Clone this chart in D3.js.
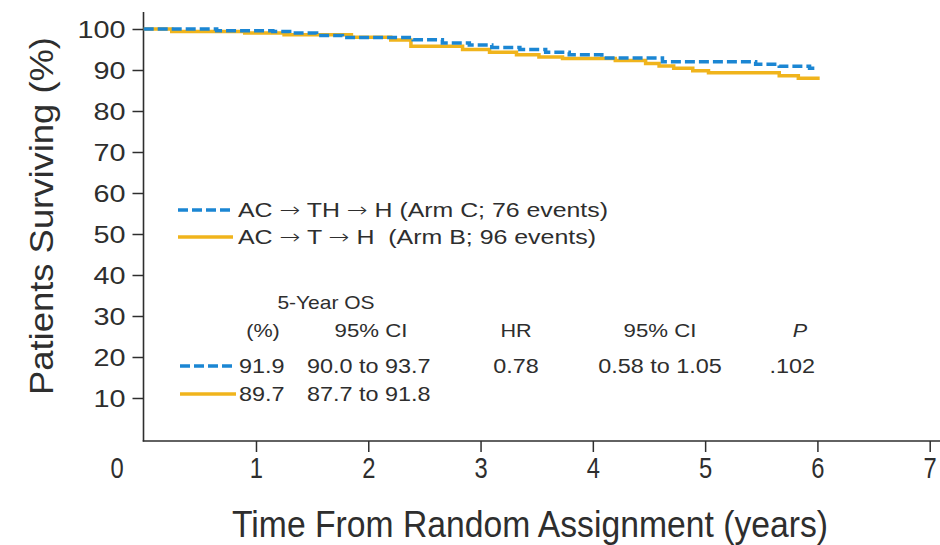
<!DOCTYPE html>
<html>
<head>
<meta charset="utf-8">
<script src="https://cdn.jsdelivr.net/npm/d3@7"></script>
<style>
  body { margin: 0; background: #fff; }
  svg { display: block; }
</style>
</head>
<body>
<svg id="chart" width="940" height="545"></svg>
<script>
// Axis ticks
const timeTicks = [1, 2, 3, 4, 5, 6, 7];
const survivalTicks = [10, 20, 30, 40, 50, 60, 70, 80, 90, 100];

// Kaplan-Meier estimates, Arm C (AC -> TH -> H)
const armCTime = [0, 0.65, 1.15, 1.3, 1.54, 1.77, 2.4, 2.66, 2.9, 3.1, 3.35, 3.58, 3.79, 4.08, 4.62, 5.45, 5.66, 5.93, 6.0];
const armCSurv = [100, 99.6, 99.4, 99.0, 98.4, 97.9, 97.4, 96.6, 96.1, 95.5, 95.0, 94.3, 93.7, 92.9, 92.0, 91.4, 90.9, 90.4, 90.4];

// Kaplan-Meier estimates, Arm B (AC -> T -> H)
const armBTime = [0, 0.25, 0.9, 1.25, 1.85, 2.2, 2.38, 2.84, 3.08, 3.32, 3.52, 3.73, 4.2, 4.47, 4.59, 4.72, 4.89, 5.03, 5.66, 5.83, 6.02];
const armBSurv = [100, 99.4, 99.0, 98.6, 98.0, 97.3, 95.8, 95.0, 94.3, 93.7, 93.2, 92.8, 92.3, 91.6, 91.0, 90.4, 89.8, 89.3, 88.6, 88.0, 88.0];

// Legend entries: regimen steps and the bracketed note
const legendRegimens = [["AC", "TH", "H"], ["AC", "T", "H"]];
const legendNotes = [" (Arm C; 76 events)", "  (Arm B; 96 events)"];

// Summary table
const osPercent = ["91.9", "89.7"];
const osInterval = ["90.0 to 93.7", "87.7 to 91.8"];
const hazardRatio = "0.78";
const hrInterval = "0.58 to 1.05";
const pValue = ".102";

const blue = "#1b86d3";
const gold = "#f0b41c";
const ink = "#2e2e2e";
const sans = "'Liberation Sans', Arial, Helvetica, sans-serif";
const WIDE = 1.2;     // horizontal stretch of the body type
const NARROW = 0.82;  // horizontal squeeze of the time-axis type

const svg = d3.select("#chart");

// Append text whose glyphs are scaled horizontally around x = 0
function label(parent, txt, xPos, yPos, opts = {}) {
  const f = opts.scaleX || WIDE;
  return parent.append("text")
    .attr("x", xPos / f).attr("y", yPos)
    .attr("transform", `scale(${f},1)`)
    .attr("text-anchor", opts.anchor || "start")
    .attr("font-family", sans).attr("font-size", opts.size || 20)
    .attr("font-style", opts.italic ? "italic" : null)
    .attr("fill", ink)
    .style("white-space", "pre")
    .text(txt);
}

const x = d3.scaleLinear().domain([0, 7]).range([143.7, 929.7]);
const y = d3.scaleLinear().domain([0, 100]).range([439, 29]);

// Axis lines
svg.append("line").attr("x1", 143.5).attr("x2", 143.5).attr("y1", 12).attr("y2", 441.5)
  .attr("stroke", ink).attr("stroke-width", 1.6);
svg.append("line").attr("x1", 142.7).attr("x2", 940).attr("y1", 441).attr("y2", 441)
  .attr("stroke", ink).attr("stroke-width", 1.6);

// Y axis
const yAxis = svg.append("g").attr("transform", "translate(143.5,0)")
  .call(d3.axisLeft(y).tickValues(survivalTicks).tickSize(11).tickPadding(4));
yAxis.select(".domain").remove();
yAxis.selectAll(".tick line").attr("stroke", ink).attr("stroke-width", 1.5);
yAxis.selectAll(".tick text")
  .attr("font-family", sans).attr("font-size", 24).attr("fill", ink)
  .attr("x", -18 / WIDE).attr("dy", "0.36em")
  .attr("transform", `scale(${WIDE},1)`);

// X axis
const xAxis = svg.append("g").attr("transform", "translate(0,441)")
  .call(d3.axisBottom(x).tickValues(timeTicks).tickSize(11).tickFormat(d3.format("d")));
xAxis.select(".domain").remove();
xAxis.selectAll(".tick line").attr("stroke", ink).attr("stroke-width", 1.5);
xAxis.selectAll(".tick text")
  .attr("font-family", sans).attr("font-size", 29).attr("fill", ink)
  .attr("x", 0).attr("y", 37).attr("dy", 0)
  .attr("transform", `scale(${NARROW},1)`);
label(svg, "0", 117, 478, { anchor: "middle", size: 29, scaleX: NARROW });

// Axis titles
svg.append("text")
  .attr("transform", "translate(53,216) rotate(-90)")
  .attr("text-anchor", "middle")
  .attr("font-family", sans).attr("font-size", 34).attr("fill", ink)
  .attr("textLength", 358).attr("lengthAdjust", "spacingAndGlyphs")
  .text("Patients Surviving (%)");
svg.append("text")
  .attr("x", 530).attr("y", 537).attr("text-anchor", "middle")
  .attr("font-family", sans).attr("font-size", 37).attr("fill", ink)
  .attr("textLength", 596).attr("lengthAdjust", "spacingAndGlyphs")
  .text("Time From Random Assignment (years)");

// Survival curves
const step = d3.line().x(d => x(d[0])).y(d => y(d[1])).curve(d3.curveStepAfter);
const armB = armBTime.map((t, i) => [t, armBSurv[i]]);
const armC = armCTime.map((t, i) => [t, armCSurv[i]]);

svg.append("path").datum(armB).attr("d", step)
  .attr("fill", "none").attr("stroke", gold).attr("stroke-width", 3.5);
svg.append("path").datum(armC).attr("d", step)
  .attr("fill", "none").attr("stroke", blue).attr("stroke-width", 3.5)
  .attr("stroke-dasharray", "10,4");

// Legend
const legendRows = [
  { y: 210, color: blue, dash: "10,4", len: 370 },
  { y: 237, color: gold, dash: null, len: 358 }
];
legendRows.forEach((r, i) => {
  svg.append("line").attr("x1", 178).attr("x2", 233).attr("y1", r.y).attr("y2", r.y)
    .attr("stroke", r.color).attr("stroke-width", 3.5)
    .attr("stroke-dasharray", r.dash);
  const t = svg.append("text").attr("x", 238).attr("y", r.y + 7)
    .attr("font-family", sans).attr("font-size", 20).attr("fill", ink)
    .style("white-space", "pre")
    .attr("textLength", r.len).attr("lengthAdjust", "spacingAndGlyphs");
  legendRegimens[i].forEach((step, j) => {
    if (j > 0) {
      t.append("tspan").text(" ");
      t.append("tspan").attr("font-family", "'DejaVu Sans', sans-serif")
        .attr("font-weight", 300).text("\u2192");
      t.append("tspan").text(" ");
    }
    t.append("tspan").text(step);
  });
  t.append("tspan").text(legendNotes[i]);
});

// Summary table: headers
label(svg, "5-Year OS", 326, 309, { anchor: "middle", size: 17.5 });
label(svg, "(%)", 263, 337, { anchor: "middle", size: 18 });
label(svg, "95% CI", 371, 337, { anchor: "middle", size: 18.5 });
label(svg, "HR", 516, 337, { anchor: "middle", size: 18 });
label(svg, "95% CI", 660, 337, { anchor: "middle", size: 18.5 });
label(svg, "P", 800, 337, { anchor: "middle", size: 18, italic: true });

// Summary table: rows
const rowY = [373, 401];
const rowLine = [{ color: blue, dash: "10,4" }, { color: gold, dash: null }];
rowY.forEach((ry, i) => {
  svg.append("line").attr("x1", 180).attr("x2", 236).attr("y1", ry - 7).attr("y2", ry - 7)
    .attr("stroke", rowLine[i].color).attr("stroke-width", 3.5)
    .attr("stroke-dasharray", rowLine[i].dash);
  label(svg, osPercent[i], 239, ry, { size: 19.5 });
  label(svg, osInterval[i], 307, ry, { size: 19.5 });
});
label(svg, hazardRatio, 516, rowY[0], { anchor: "middle", size: 19.5 });
label(svg, hrInterval, 660, rowY[0], { anchor: "middle", size: 19.5 });
label(svg, pValue, 815, rowY[0], { anchor: "end", size: 19.5 });
</script>
</body>
</html>
